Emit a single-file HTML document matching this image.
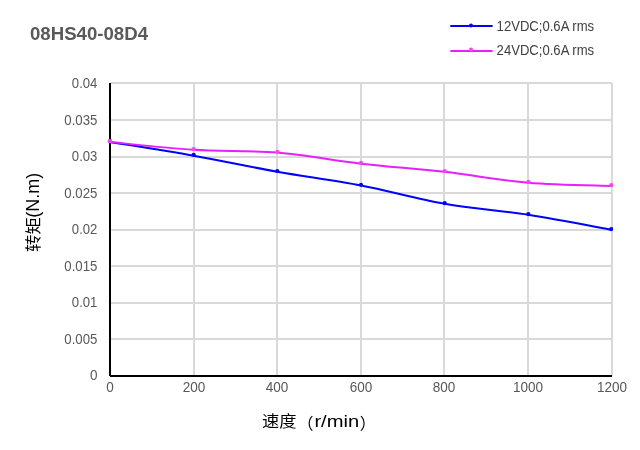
<!DOCTYPE html>
<html lang="zh"><head><meta charset="utf-8"><title>08HS40-08D4</title>
<style>
html,body{margin:0;padding:0;background:#fff;}
body{width:640px;height:450px;overflow:hidden;}
svg{display:block;}
text{font-family:"Liberation Sans","Noto Sans CJK SC",sans-serif;}
.tick{font-size:14.2px;fill:#595959;}
.leg{font-size:13.8px;fill:#404040;}
.title{font-size:18.5px;font-weight:bold;fill:#595959;}
.axt{font-size:17px;fill:#000;}
</style></head><body>
<svg width="640" height="450" viewBox="0 0 640 450">
<rect width="640" height="450" fill="#fff"/>
<g stroke="#d9d9d9" stroke-width="2" fill="none"><line x1="110" y1="339" x2="612" y2="339"/><line x1="110" y1="303" x2="612" y2="303"/><line x1="110" y1="266" x2="612" y2="266"/><line x1="110" y1="230" x2="612" y2="230"/><line x1="110" y1="193" x2="612" y2="193"/><line x1="110" y1="157" x2="612" y2="157"/><line x1="110" y1="120" x2="612" y2="120"/><line x1="110" y1="83" x2="612" y2="83"/><line x1="194" y1="83" x2="194" y2="376"/><line x1="277" y1="83" x2="277" y2="376"/><line x1="361" y1="83" x2="361" y2="376"/><line x1="444" y1="83" x2="444" y2="376"/><line x1="528" y1="83" x2="528" y2="376"/><line x1="612" y1="83" x2="612" y2="376"/></g>
<g stroke="#000" stroke-width="2" fill="none"><line x1="110" y1="83" x2="110" y2="376"/><line x1="110" y1="376" x2="612" y2="376"/></g>
<defs><clipPath id="pc"><rect x="100" y="70" width="513" height="320"/></clipPath></defs>
<g clip-path="url(#pc)">
<path d="M110.00,141.97 C123.94,144.25 165.78,150.70 193.67,155.66 C221.56,160.63 249.44,166.80 277.33,171.78 C305.22,176.76 333.11,180.20 361.00,185.55 C388.89,190.90 416.78,198.98 444.67,203.86 C472.56,208.75 500.44,210.52 528.33,214.85 C556.22,219.18 598.06,227.36 612.00,229.87" fill="none" stroke="#0000ff" stroke-width="2" stroke-linecap="butt" stroke-linejoin="round"/><circle cx="110.00" cy="141.17" r="2.1" fill="#0000ff"/><circle cx="193.67" cy="154.86" r="2.1" fill="#0000ff"/><circle cx="277.33" cy="170.98" r="2.1" fill="#0000ff"/><circle cx="361.00" cy="184.75" r="2.1" fill="#0000ff"/><circle cx="444.67" cy="203.06" r="2.1" fill="#0000ff"/><circle cx="528.33" cy="214.05" r="2.1" fill="#0000ff"/><circle cx="611.20" cy="229.07" r="2.1" fill="#0000ff"/>
<path d="M110.00,141.97 C123.94,143.27 165.78,148.03 193.67,149.80 C221.56,151.57 249.44,150.27 277.33,152.59 C305.22,154.91 333.11,160.52 361.00,163.72 C388.89,166.92 416.78,168.60 444.67,171.78 C472.56,174.95 500.44,180.41 528.33,182.77 C556.22,185.12 598.06,185.39 612.00,185.92" fill="none" stroke="#e620ff" stroke-width="2" stroke-linecap="butt" stroke-linejoin="round"/><circle cx="110.00" cy="141.17" r="2.1" fill="#ff40ff"/><circle cx="193.67" cy="149.00" r="2.1" fill="#ff40ff"/><circle cx="277.33" cy="151.79" r="2.1" fill="#ff40ff"/><circle cx="361.00" cy="162.92" r="2.1" fill="#ff40ff"/><circle cx="444.67" cy="170.98" r="2.1" fill="#ff40ff"/><circle cx="528.33" cy="181.97" r="2.1" fill="#ff40ff"/><circle cx="611.20" cy="185.12" r="2.1" fill="#ff40ff"/>
</g>
<text class="tick" x="89.88" y="380.0" textLength="7.52" lengthAdjust="spacingAndGlyphs">0</text><text class="tick" x="64.32" y="344.0" textLength="33.08" lengthAdjust="spacingAndGlyphs">0.005</text><text class="tick" x="71.84" y="306.8" textLength="25.56" lengthAdjust="spacingAndGlyphs">0.01</text><text class="tick" x="64.32" y="270.7" textLength="33.08" lengthAdjust="spacingAndGlyphs">0.015</text><text class="tick" x="71.84" y="233.7" textLength="25.56" lengthAdjust="spacingAndGlyphs">0.02</text><text class="tick" x="64.32" y="197.6" textLength="33.08" lengthAdjust="spacingAndGlyphs">0.025</text><text class="tick" x="71.84" y="160.9" textLength="25.56" lengthAdjust="spacingAndGlyphs">0.03</text><text class="tick" x="64.32" y="124.5" textLength="33.08" lengthAdjust="spacingAndGlyphs">0.035</text><text class="tick" x="71.84" y="87.6" textLength="25.56" lengthAdjust="spacingAndGlyphs">0.04</text>
<text class="tick" x="106.24" y="391.7" textLength="7.52" lengthAdjust="spacingAndGlyphs">0</text><text class="tick" x="182.72" y="391.7" textLength="22.56" lengthAdjust="spacingAndGlyphs">200</text><text class="tick" x="265.72" y="391.7" textLength="22.56" lengthAdjust="spacingAndGlyphs">400</text><text class="tick" x="349.72" y="391.7" textLength="22.56" lengthAdjust="spacingAndGlyphs">600</text><text class="tick" x="432.72" y="391.7" textLength="22.56" lengthAdjust="spacingAndGlyphs">800</text><text class="tick" x="512.96" y="391.7" textLength="30.08" lengthAdjust="spacingAndGlyphs">1000</text><text class="tick" x="596.96" y="391.7" textLength="30.08" lengthAdjust="spacingAndGlyphs">1200</text>
<text class="title" x="30" y="40" textLength="118" lengthAdjust="spacingAndGlyphs">08HS40-08D4</text>
<line x1="450.3" y1="26" x2="492.6" y2="26" stroke="#0000ff" stroke-width="2"/><circle cx="471" cy="25.5" r="2" fill="#0000ff"/><text class="leg" x="496.6" y="30.7" textLength="97.5" lengthAdjust="spacingAndGlyphs">12VDC;0.6A rms</text>
<line x1="450.3" y1="51" x2="492.6" y2="51" stroke="#e620ff" stroke-width="2"/><circle cx="471" cy="49.6" r="2" fill="#ff40ff"/><text class="leg" x="496.6" y="54.7" textLength="97.5" lengthAdjust="spacingAndGlyphs">24VDC;0.6A rms</text>
<text class="axt" y="427"><tspan x="262" y="426.8" font-size="16" textLength="34.5" lengthAdjust="spacingAndGlyphs">速度</tspan><tspan x="297.5" y="429" font-size="16">（</tspan><tspan x="314.4" y="427" textLength="44.8" lengthAdjust="spacingAndGlyphs">r/min</tspan><tspan x="359.8" y="429" font-size="16">）</tspan></text>
<text class="axt" transform="translate(39.1,252) rotate(-90)"><tspan x="0" font-size="16" textLength="35" lengthAdjust="spacingAndGlyphs">转矩</tspan><tspan x="34.3" font-size="18" textLength="44.9" lengthAdjust="spacingAndGlyphs">(N.m)</tspan></text>
</svg></body></html>
